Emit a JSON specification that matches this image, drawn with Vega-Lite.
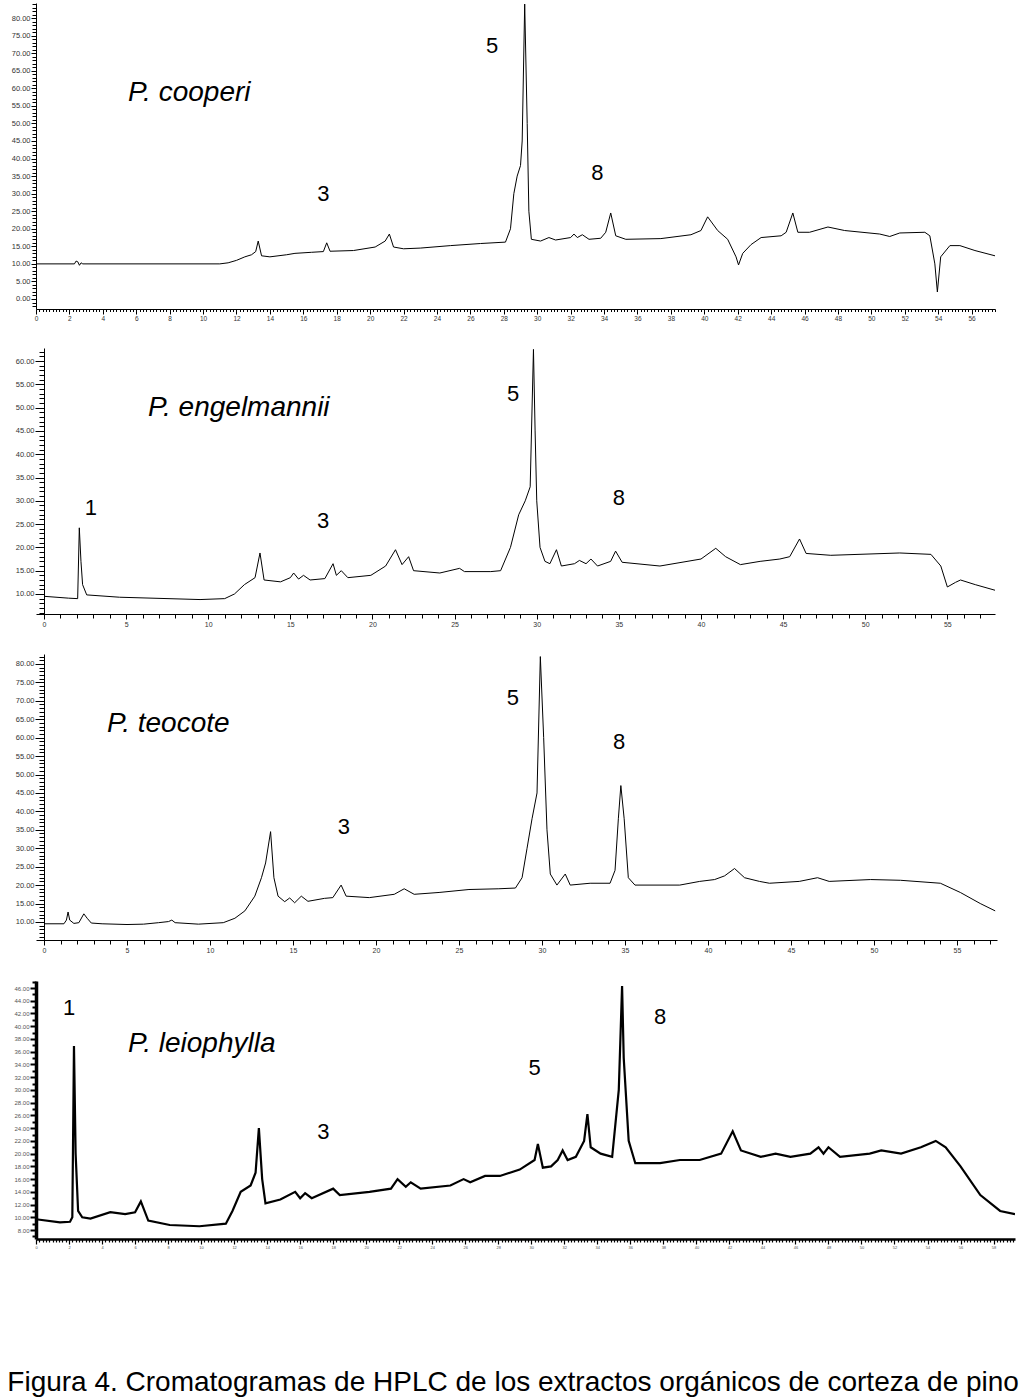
{
  "$schema": "https://vega.github.io/schema/vega-lite/v6.json",
  "background": "white",
  "padding": {"left": 7, "top": 0, "right": 0, "bottom": 0},
  "spacing": 25,
  "title": {"text": "Figura 4. Cromatogramas de HPLC de los extractos orgánicos de corteza de pino", "orient": "bottom", "anchor": "middle", "font": "Liberation Sans", "fontSize": 28, "fontWeight": "normal", "color": "black", "offset": 120},
  "config": {"view": {"stroke": null}, "axis": {"grid": false, "domainColor": "black", "tickColor": "black", "labelFont": "Liberation Sans", "labelColor": "#333", "title": null, "labelOverlap": false, "labelFlush": false, "labelBound": false, "labelPadding": 1}},
  "datasets": {
    "cooperi": [
      {"t":0,"v":10},{"t":2.3,"v":10},{"t":2.4,"v":10.8},{"t":2.5,"v":10.6},{"t":2.6,"v":9.6},{"t":2.7,"v":10.3},{"t":2.8,"v":10},{"t":11,"v":10},{"t":11.5,"v":10.3},{"t":12,"v":11},{"t":12.5,"v":12},{"t":12.9,"v":12.6},{"t":13.15,"v":13.5},{"t":13.3,"v":16.5},{"t":13.5,"v":12.3},{"t":14,"v":12},{"t":15,"v":12.6},{"t":15.5,"v":13},{"t":16.5,"v":13.3},{"t":17.2,"v":13.5},{"t":17.4,"v":16},{"t":17.6,"v":13.6},{"t":19,"v":13.8},{"t":20.3,"v":14.8},{"t":20.9,"v":16.5},{"t":21.15,"v":18.5},{"t":21.4,"v":14.8},{"t":22,"v":14.3},{"t":23,"v":14.5},{"t":24.8,"v":15.2},{"t":26.6,"v":15.8},{"t":28.1,"v":16.2},{"t":28.4,"v":20},{"t":28.6,"v":30},{"t":28.8,"v":35},{"t":29.0,"v":38},{"t":29.1,"v":45},{"t":29.25,"v":84},{"t":29.4,"v":50},{"t":29.5,"v":25},{"t":29.65,"v":17},{"t":30.2,"v":16.5},{"t":30.7,"v":17.5},{"t":31.1,"v":16.8},{"t":32,"v":17.5},{"t":32.2,"v":18.5},{"t":32.4,"v":17.5},{"t":32.7,"v":18.3},{"t":33.1,"v":17},{"t":33.8,"v":17.3},{"t":34.1,"v":19},{"t":34.4,"v":24.5},{"t":34.7,"v":18},{"t":35.3,"v":17},{"t":37.4,"v":17.2},{"t":39.2,"v":18.3},{"t":39.8,"v":19.5},{"t":40.2,"v":23.4},{"t":40.8,"v":19.5},{"t":41.4,"v":17},{"t":41.9,"v":12},{"t":42.05,"v":9.7},{"t":42.3,"v":13},{"t":42.8,"v":15.5},{"t":43.4,"v":17.5},{"t":44.6,"v":18},{"t":44.9,"v":19},{"t":45.3,"v":24.5},{"t":45.6,"v":19},{"t":46.3,"v":19},{"t":47.4,"v":20.5},{"t":48.4,"v":19.5},{"t":50.5,"v":18.5},{"t":51.1,"v":17.8},{"t":51.7,"v":18.8},{"t":53.2,"v":19},{"t":53.5,"v":18},{"t":53.8,"v":10},{"t":53.95,"v":2},{"t":54.15,"v":12},{"t":54.7,"v":15.2},{"t":55.3,"v":15.2},{"t":56.2,"v":13.8},{"t":57.4,"v":12.3}
    ],
    "engelmannii": [
      {"t":0,"v":9.5},{"t":1.5,"v":9.1},{"t":2.05,"v":9},{"t":2.15,"v":24.2},{"t":2.25,"v":17},{"t":2.35,"v":12},{"t":2.6,"v":9.8},{"t":4.6,"v":9.3},{"t":9.5,"v":8.8},{"t":11,"v":9},{"t":11.6,"v":10},{"t":12.2,"v":12},{"t":12.85,"v":13.5},{"t":13.15,"v":18.8},{"t":13.4,"v":13},{"t":14.4,"v":12.6},{"t":15,"v":13.5},{"t":15.2,"v":14.5},{"t":15.5,"v":13.2},{"t":15.8,"v":14},{"t":16.2,"v":13},{"t":17.1,"v":13.3},{"t":17.6,"v":16.5},{"t":17.8,"v":14},{"t":18.1,"v":15},{"t":18.5,"v":13.5},{"t":19.9,"v":14},{"t":20.8,"v":16},{"t":21.4,"v":19.5},{"t":21.8,"v":16.3},{"t":22.2,"v":18},{"t":22.5,"v":15},{"t":24.1,"v":14.5},{"t":25.3,"v":15.5},{"t":25.6,"v":14.8},{"t":27.2,"v":14.8},{"t":27.8,"v":15},{"t":28.4,"v":20},{"t":28.9,"v":27},{"t":29.3,"v":30},{"t":29.6,"v":33},{"t":29.8,"v":62.5},{"t":29.9,"v":45},{"t":30.0,"v":30},{"t":30.2,"v":20},{"t":30.5,"v":17},{"t":30.8,"v":16.5},{"t":31.2,"v":19.5},{"t":31.5,"v":16},{"t":32.3,"v":16.5},{"t":32.6,"v":17.2},{"t":33,"v":16.5},{"t":33.3,"v":17.5},{"t":33.7,"v":16},{"t":34.5,"v":17},{"t":34.8,"v":19.2},{"t":35.2,"v":16.8},{"t":37.5,"v":16},{"t":40,"v":17.5},{"t":40.9,"v":19.8},{"t":41.5,"v":18},{"t":42.4,"v":16.3},{"t":43.6,"v":17},{"t":44.8,"v":17.5},{"t":45.4,"v":18},{"t":46,"v":21.8},{"t":46.4,"v":18.7},{"t":47.9,"v":18.3},{"t":52.1,"v":18.8},{"t":54,"v":18.5},{"t":54.6,"v":16},{"t":55,"v":11.5},{"t":55.5,"v":12.5},{"t":55.8,"v":13},{"t":56.7,"v":12},{"t":57.9,"v":10.8}
    ],
    "teocote": [
      {"t":0,"v":9.5},{"t":1.2,"v":9.5},{"t":1.35,"v":10.5},{"t":1.45,"v":12.7},{"t":1.55,"v":10.5},{"t":1.8,"v":9.6},{"t":2.1,"v":9.8},{"t":2.4,"v":12.2},{"t":2.6,"v":11},{"t":2.85,"v":9.7},{"t":3.5,"v":9.5},{"t":5,"v":9.3},{"t":6,"v":9.4},{"t":6.9,"v":9.8},{"t":7.5,"v":10.1},{"t":7.7,"v":10.5},{"t":7.9,"v":9.8},{"t":9.3,"v":9.4},{"t":10.8,"v":9.8},{"t":11.5,"v":11},{"t":12.1,"v":13},{"t":12.7,"v":17},{"t":13.1,"v":22},{"t":13.35,"v":26},{"t":13.65,"v":34.5},{"t":13.85,"v":22},{"t":14.1,"v":17},{"t":14.5,"v":15.5},{"t":14.8,"v":16.5},{"t":15.1,"v":15.2},{"t":15.5,"v":17},{"t":15.9,"v":15.6},{"t":16.9,"v":16.4},{"t":17.4,"v":16.6},{"t":17.9,"v":20},{"t":18.2,"v":17},{"t":19.6,"v":16.6},{"t":21.1,"v":17.5},{"t":21.7,"v":19},{"t":22.3,"v":17.5},{"t":23.8,"v":18},{"t":25.6,"v":18.8},{"t":27.4,"v":19},{"t":28.4,"v":19.2},{"t":28.8,"v":22},{"t":29.1,"v":30},{"t":29.4,"v":38},{"t":29.7,"v":45},{"t":29.9,"v":82},{"t":30.1,"v":60},{"t":30.3,"v":35},{"t":30.5,"v":23},{"t":30.9,"v":20},{"t":31.4,"v":23},{"t":31.7,"v":20},{"t":32.9,"v":20.5},{"t":34.1,"v":20.5},{"t":34.4,"v":24},{"t":34.6,"v":38},{"t":34.75,"v":47},{"t":34.95,"v":38},{"t":35.2,"v":22},{"t":35.6,"v":20},{"t":38.3,"v":20},{"t":39.5,"v":21},{"t":40.4,"v":21.5},{"t":41,"v":22.5},{"t":41.6,"v":24.5},{"t":42.2,"v":22},{"t":43.1,"v":21},{"t":43.7,"v":20.5},{"t":45.5,"v":21},{"t":46.6,"v":22},{"t":47.3,"v":21},{"t":49.8,"v":21.5},{"t":51.6,"v":21.3},{"t":54,"v":20.5},{"t":55.2,"v":18},{"t":56.4,"v":15},{"t":57.3,"v":13}
    ],
    "leiophylla": [
      {"t":0,"v":9.7},{"t":1.45,"v":9.2},{"t":2.06,"v":9.3},{"t":2.2,"v":10},{"t":2.3,"v":36.9},{"t":2.4,"v":20},{"t":2.55,"v":11},{"t":2.8,"v":10},{"t":3.3,"v":9.8},{"t":4.5,"v":10.8},{"t":5.4,"v":10.5},{"t":6,"v":10.8},{"t":6.35,"v":12.5},{"t":6.8,"v":9.5},{"t":8.1,"v":8.8},{"t":9.9,"v":8.6},{"t":11.5,"v":9},{"t":11.9,"v":11},{"t":12.4,"v":14},{"t":13,"v":15},{"t":13.3,"v":17},{"t":13.5,"v":24},{"t":13.7,"v":16},{"t":13.9,"v":12.2},{"t":14.8,"v":12.8},{"t":15.7,"v":14},{"t":16,"v":13},{"t":16.3,"v":13.8},{"t":16.7,"v":13},{"t":18,"v":14.5},{"t":18.4,"v":13.5},{"t":20.2,"v":14},{"t":21.5,"v":14.5},{"t":21.9,"v":16},{"t":22.4,"v":14.8},{"t":22.7,"v":15.5},{"t":23.3,"v":14.5},{"t":25.1,"v":15},{"t":25.9,"v":16},{"t":26.3,"v":15.5},{"t":27.2,"v":16.5},{"t":28.1,"v":16.5},{"t":29.3,"v":17.5},{"t":30.2,"v":19},{"t":30.4,"v":21.5},{"t":30.7,"v":17.8},{"t":31.2,"v":18},{"t":31.6,"v":19},{"t":31.9,"v":20.5},{"t":32.2,"v":19},{"t":32.7,"v":19.5},{"t":33.2,"v":22},{"t":33.4,"v":26.2},{"t":33.6,"v":21},{"t":34.2,"v":20},{"t":34.9,"v":19.5},{"t":35.3,"v":30},{"t":35.5,"v":46.3},{"t":35.6,"v":35},{"t":35.9,"v":22},{"t":36.3,"v":18.5},{"t":37.8,"v":18.5},{"t":39,"v":19},{"t":40.2,"v":19},{"t":41.5,"v":20},{"t":42.2,"v":23.5},{"t":42.7,"v":20.5},{"t":43.9,"v":19.5},{"t":44.8,"v":20},{"t":45.7,"v":19.5},{"t":46.9,"v":20},{"t":47.4,"v":21},{"t":47.7,"v":20},{"t":48,"v":21},{"t":48.7,"v":19.5},{"t":50.5,"v":20},{"t":51.2,"v":20.5},{"t":52.4,"v":20},{"t":53.6,"v":21},{"t":54.5,"v":22},{"t":55.1,"v":21},{"t":56,"v":18},{"t":57.2,"v":13.5},{"t":58.4,"v":11},{"t":59.3,"v":10.5}
    ]
  },
  "vconcat": [
    {
      "width": 959, "height": 306,
      "layer": [
        {"data": {"name": "cooperi"}, "mark": {"type": "line", "color": "black", "strokeWidth": 1, "clip": true},
         "encoding": {
           "x": {"field": "t", "type": "quantitative", "scale": {"domain": [0, 57.4], "nice": false, "zero": false},
                 "axis": {"tickCount": 287, "labelFontSize": 6.5, "labelExpr": "abs(datum.value/2 - round(datum.value/2)) < 0.001 ? format(datum.value, 'd') : ''", "tickSize": {"condition": {"test": "abs(datum.value/2 - round(datum.value/2)) < 0.001", "value": 5}, "value": 2.5}}},
           "y": {"field": "v", "type": "quantitative", "scale": {"domain": [-2.85, 84.3], "nice": false, "zero": false},
                 "axis": {"tickCount": 87, "labelFontSize": 7.5, "labelExpr": "abs(datum.value/5 - round(datum.value/5)) < 0.001 ? format(datum.value, '.2f') : ''", "tickSize": {"condition": {"test": "abs(datum.value/5 - round(datum.value/5)) < 0.001", "value": 5}, "value": 4}}}
         }},
        {"data": {"values": [{"t": 5.51, "v": 58.7, "label": "P. cooperi"}]}, "mark": {"type": "text", "align": "left", "baseline": "middle", "font": "Liberation Sans", "fontSize": 28, "fontStyle": "italic", "color": "black"},
         "encoding": {"x": {"field": "t", "type": "quantitative"}, "y": {"field": "v", "type": "quantitative"}, "text": {"field": "label"}}},
        {"data": {"values": [{"t": 27.3, "v": 72.1, "label": "5"}, {"t": 17.2, "v": 29.9, "label": "3"}, {"t": 33.6, "v": 35.9, "label": "8"}]}, "mark": {"type": "text", "align": "center", "baseline": "middle", "font": "Liberation Sans", "fontSize": 22, "color": "black"},
         "encoding": {"x": {"field": "t", "type": "quantitative"}, "y": {"field": "v", "type": "quantitative"}, "text": {"field": "label"}}}
      ]
    },
    {
      "width": 959, "height": 266,
      "layer": [
        {"data": {"name": "engelmannii"}, "mark": {"type": "line", "color": "black", "strokeWidth": 1, "clip": true},
         "encoding": {
           "x": {"field": "t", "type": "quantitative", "scale": {"domain": [-0.487, 57.9], "nice": false, "zero": false},
                 "axis": {"tickCount": 58, "labelFontSize": 7, "labelExpr": "abs(datum.value/5 - round(datum.value/5)) < 0.001 ? format(datum.value, 'd') : ''", "tickSize": {"condition": {"test": "abs(datum.value/5 - round(datum.value/5)) < 0.001", "value": 5}, "value": 4}}},
           "y": {"field": "v", "type": "quantitative", "scale": {"domain": [5.7, 62.8], "nice": false, "zero": false},
                 "axis": {"offset": -8, "tickCount": 57, "labelFontSize": 7.5, "labelExpr": "abs(datum.value/5 - round(datum.value/5)) < 0.001 ? format(datum.value, '.2f') : ''", "tickSize": {"condition": {"test": "abs(datum.value/5 - round(datum.value/5)) < 0.001", "value": 9}, "value": 5}}}
         }},
        {"data": {"values": [{"t": 6.33, "v": 49.9, "label": "P. engelmannii"}]}, "mark": {"type": "text", "align": "left", "baseline": "middle", "font": "Liberation Sans", "fontSize": 28, "fontStyle": "italic", "color": "black"},
         "encoding": {"x": {"field": "t", "type": "quantitative"}, "y": {"field": "v", "type": "quantitative"}, "text": {"field": "label"}}},
        {"data": {"values": [{"t": 28.56, "v": 52.9, "label": "5"}, {"t": 2.86, "v": 28.5, "label": "1"}, {"t": 17.0, "v": 25.7, "label": "3"}, {"t": 35.0, "v": 30.6, "label": "8"}]}, "mark": {"type": "text", "align": "center", "baseline": "middle", "font": "Liberation Sans", "fontSize": 22, "color": "black"},
         "encoding": {"x": {"field": "t", "type": "quantitative"}, "y": {"field": "v", "type": "quantitative"}, "text": {"field": "label"}}}
      ]
    },
    {
      "width": 961, "height": 286,
      "layer": [
        {"data": {"name": "teocote"}, "mark": {"type": "line", "color": "black", "strokeWidth": 1, "clip": true},
         "encoding": {
           "x": {"field": "t", "type": "quantitative", "scale": {"domain": [-0.482, 57.41], "nice": false, "zero": false},
                 "axis": {"tickCount": 58, "labelFontSize": 7, "labelExpr": "abs(datum.value/5 - round(datum.value/5)) < 0.001 ? format(datum.value, 'd') : ''", "tickSize": {"condition": {"test": "abs(datum.value/5 - round(datum.value/5)) < 0.001", "value": 5}, "value": 4}}},
           "y": {"field": "v", "type": "quantitative", "scale": {"domain": [5.1, 82.7], "nice": false, "zero": false},
                 "axis": {"offset": -8, "tickCount": 78, "labelFontSize": 7.5, "labelExpr": "abs(datum.value/5 - round(datum.value/5)) < 0.001 ? format(datum.value, '.2f') : ''", "tickSize": {"condition": {"test": "abs(datum.value/5 - round(datum.value/5)) < 0.001", "value": 9}, "value": 5}}}
         }},
        {"data": {"values": [{"t": 3.8, "v": 63.7, "label": "P. teocote"}]}, "mark": {"type": "text", "align": "left", "baseline": "middle", "font": "Liberation Sans", "fontSize": 28, "fontStyle": "italic", "color": "black"},
         "encoding": {"x": {"field": "t", "type": "quantitative"}, "y": {"field": "v", "type": "quantitative"}, "text": {"field": "label"}}},
        {"data": {"values": [{"t": 28.25, "v": 70.8, "label": "5"}, {"t": 18.07, "v": 35.8, "label": "3"}, {"t": 34.64, "v": 58.8, "label": "8"}]}, "mark": {"type": "text", "align": "center", "baseline": "middle", "font": "Liberation Sans", "fontSize": 22, "color": "black"},
         "encoding": {"x": {"field": "t", "type": "quantitative"}, "y": {"field": "v", "type": "quantitative"}, "text": {"field": "label"}}}
      ]
    },
    {
      "width": 979, "height": 258,
      "layer": [
        {"data": {"name": "leiophylla"}, "mark": {"type": "line", "color": "black", "strokeWidth": 2.2, "clip": true},
         "encoding": {
           "x": {"field": "t", "type": "quantitative", "scale": {"domain": [0, 59.3], "nice": false, "zero": false},
                 "axis": {"tickCount": 297, "domainWidth": 2.5, "tickWidth": 1.2, "labelFontSize": 4, "labelColor": "#555", "labelExpr": "abs(datum.value/2 - round(datum.value/2)) < 0.001 ? format(datum.value, 'd') : ''", "tickSize": {"condition": {"test": "abs(datum.value/2 - round(datum.value/2)) < 0.001", "value": 5}, "value": 3}}},
           "y": {"field": "v", "type": "quantitative", "scale": {"domain": [6.6, 47.1], "nice": false, "zero": false},
                 "axis": {"tickCount": 40, "domainWidth": 3.5, "tickWidth": 2, "labelFontSize": 6, "labelColor": "#555", "labelExpr": "abs(datum.value/2 - round(datum.value/2)) < 0.001 ? format(datum.value, '.2f') : ''", "tickSize": {"condition": {"test": "abs(datum.value/2 - round(datum.value/2)) < 0.001", "value": 6}, "value": 4}}}
         }},
        {"data": {"values": [{"t": 5.58, "v": 37.2, "label": "P. leiophylla"}]}, "mark": {"type": "text", "align": "left", "baseline": "middle", "font": "Liberation Sans", "fontSize": 28, "fontStyle": "italic", "color": "black"},
         "encoding": {"x": {"field": "t", "type": "quantitative"}, "y": {"field": "v", "type": "quantitative"}, "text": {"field": "label"}}},
        {"data": {"values": [{"t": 2.0, "v": 42.85, "label": "1"}, {"t": 17.4, "v": 23.4, "label": "3"}, {"t": 30.2, "v": 33.4, "label": "5"}, {"t": 37.8, "v": 41.4, "label": "8"}]}, "mark": {"type": "text", "align": "center", "baseline": "middle", "font": "Liberation Sans", "fontSize": 22, "color": "black"},
         "encoding": {"x": {"field": "t", "type": "quantitative"}, "y": {"field": "v", "type": "quantitative"}, "text": {"field": "label"}}}
      ]
    }
  ]
}
